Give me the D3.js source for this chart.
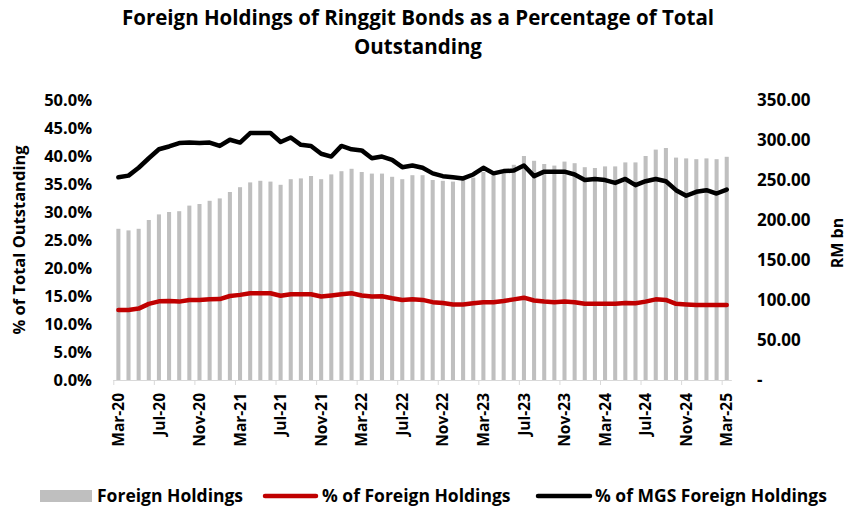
<!DOCTYPE html>
<html>
<head>
<meta charset="utf-8">
<script src="https://cdn.jsdelivr.net/npm/d3@7"></script>
<style>
  body { margin: 0; background: #fff; }
  text { font-family: "Open Sans", Lato, sans-serif; font-weight: bold; fill: #000; }
</style>
</head>
<body>
<svg id="chart" width="851" height="511"></svg>
<script>
// months run Mar-20 .. Mar-25
const firstMonth = new Date(2020, 2, 1);
const lastMonth = new Date(2025, 2, 1);
const months = d3.timeMonths(firstMonth, d3.timeMonth.offset(lastMonth, 1));

// Foreign Holdings, RM bn (right axis)
const holdings = [189, 187, 189, 200, 207, 210, 211, 218, 220, 224, 227, 235, 241,
  247, 249, 248, 244, 251, 252, 255, 251, 257, 261, 264, 260, 258, 258, 254, 251,
  256, 256, 250, 249, 248, 250, 253, 260, 256, 262, 269, 280, 274, 270, 268, 273,
  271, 266, 265, 267, 267, 272, 272, 280, 288, 290, 278, 277, 276, 277, 276, 279];

// % of Foreign Holdings (left axis)
const pctTotal = [12.5, 12.5, 12.75, 13.6, 14.05, 14.1, 14.0, 14.3, 14.3, 14.4, 14.45,
  15.0, 15.2, 15.5, 15.5, 15.5, 15.05, 15.3, 15.3, 15.3, 14.9, 15.1, 15.3, 15.5, 15.1,
  14.9, 14.95, 14.6, 14.3, 14.4, 14.3, 13.9, 13.75, 13.5, 13.5, 13.7, 13.9, 13.9, 14.1,
  14.4, 14.7, 14.2, 14.0, 13.9, 14.0, 13.9, 13.6, 13.6, 13.6, 13.6, 13.75, 13.7, 14.0,
  14.4, 14.3, 13.6, 13.5, 13.4, 13.4, 13.4, 13.4];

// % of MGS Foreign Holdings (left axis)
const pctMGS = [36.2, 36.5, 37.9, 39.6, 41.2, 41.7, 42.3, 42.4, 42.3, 42.4, 41.8, 42.9,
  42.4, 44.1, 44.1, 44.1, 42.5, 43.3, 42.0, 41.8, 40.4, 39.9, 41.8, 41.2, 41.0, 39.6,
  39.9, 39.3, 38.0, 38.3, 37.9, 36.9, 36.4, 36.2, 36.0, 36.7, 37.9, 36.9, 37.3, 37.4,
  38.3, 36.4, 37.2, 37.2, 37.2, 36.7, 35.7, 35.9, 35.7, 35.2, 35.9, 34.8, 35.5, 35.9,
  35.5, 33.9, 32.9, 33.6, 33.9, 33.3, 34.0];

const leftTicks = [0, 5, 10, 15, 20, 25, 30, 35, 40, 45, 50];
const rightTicks = [0, 50, 100, 150, 200, 250, 300, 350];
const titleLines = ["Foreign Holdings of Ringgit Bonds as a Percentage of Total", "Outstanding"];

const svg = d3.select("#chart");
const plotL = 113.3, plotR = 731.8, plotT = 100, plotB = 380;
const fmtMonth = d3.timeFormat("%b-%y");

const idx = d3.range(months.length);
const x = d3.scaleBand().domain(idx).range([plotL, plotR]).paddingInner(0.6).paddingOuter(0.3);
const xEdge = d3.scaleLinear().domain([0, months.length]).range([plotL, plotR]);
const yL = d3.scaleLinear().domain([0, 50]).range([plotB, plotT]);
const yR = d3.scaleLinear().domain([0, 350]).range([plotB, plotT]);
const cx = i => x(i) + x.bandwidth() / 2;

// title
svg.append("g").selectAll("text").data(titleLines).enter().append("text")
  .attr("x", 418).attr("y", (d, i) => 25 + i * 29)
  .attr("text-anchor", "middle").style("font-size", "20.5px")
  .text(d => d);

// bars
svg.append("g").selectAll("rect").data(holdings).enter().append("rect")
  .attr("x", (d, i) => x(i))
  .attr("width", x.bandwidth())
  .attr("y", d => yR(d))
  .attr("height", d => yR(0) - yR(d))
  .attr("fill", "#bfbfbf");

// x axis: ticks on category edges, labels on centres
const xTicks = svg.append("g").attr("transform", "translate(0," + plotB + ")")
  .call(d3.axisBottom(xEdge).tickValues(d3.range(0, months.length, 4)).tickSize(5).tickFormat(""));
xTicks.select(".domain").attr("stroke", "#d9d9d9").attr("d", "M" + plotL + ",0.5H" + plotR);
xTicks.selectAll(".tick line").attr("stroke", "#d9d9d9");

const xLab = svg.append("g").attr("transform", "translate(0," + plotB + ")")
  .call(d3.axisBottom(x).tickValues(idx.filter(i => i % 4 === 0)).tickSize(0)
    .tickFormat(i => fmtMonth(months[i])));
xLab.select(".domain").remove();
xLab.selectAll("text")
  .attr("transform", "rotate(-90)")
  .attr("x", -13).attr("y", 0).attr("dy", "0.36em")
  .attr("text-anchor", "end")
  .style("font-size", "15.5px").style("font-family", "'Open Sans', sans-serif");

// left axis
const axL = svg.append("g").attr("transform", "translate(92,0)")
  .call(d3.axisLeft(yL).tickValues(leftTicks).tickSize(0).tickPadding(0).tickFormat(d => d.toFixed(1) + "%"));
axL.select(".domain").remove();
axL.selectAll("text").style("font-size", "16.5px").style("font-family", "'Open Sans', sans-serif");

// right axis
const axR = svg.append("g").attr("transform", "translate(757,0)")
  .call(d3.axisRight(yR).tickValues(rightTicks).tickSize(0).tickPadding(0)
    .tickFormat(d => d === 0 ? "-" : d.toFixed(2)));
axR.select(".domain").remove();
axR.selectAll("text").style("font-size", "17px").style("font-family", "'Open Sans', sans-serif");

// axis titles
svg.append("text").attr("transform", "translate(25,240) rotate(-90)")
  .attr("text-anchor", "middle").style("font-size", "16.5px")
  .text("% of Total Outstanding");
svg.append("text").attr("transform", "translate(843,243) rotate(-90)")
  .attr("text-anchor", "middle").style("font-size", "16px")
  .text("RM bn");

// lines
const line = d3.line().x((d, i) => cx(i)).y(d => yL(d));
svg.append("path").datum(pctTotal).attr("d", line)
  .attr("fill", "none").attr("stroke", "#c00000").attr("stroke-width", 4.5)
  .attr("stroke-linejoin", "round").attr("stroke-linecap", "round");
svg.append("path").datum(pctMGS).attr("d", line)
  .attr("fill", "none").attr("stroke", "#000").attr("stroke-width", 4.5)
  .attr("stroke-linejoin", "round").attr("stroke-linecap", "round");

// legend
const legend = svg.append("g").style("font-size", "17.5px");
legend.append("rect").attr("x", 40).attr("y", 490).attr("width", 52).attr("height", 12).attr("fill", "#bfbfbf");
legend.append("text").attr("x", 97).attr("y", 502).text("Foreign Holdings");
legend.append("line").attr("x1", 265).attr("x2", 316).attr("y1", 496).attr("y2", 496)
  .attr("stroke", "#c00000").attr("stroke-width", 4.5).attr("stroke-linecap", "round");
legend.append("text").attr("x", 322).attr("y", 502).text("% of Foreign Holdings");
legend.append("line").attr("x1", 538).attr("x2", 590).attr("y1", 496).attr("y2", 496)
  .attr("stroke", "#000").attr("stroke-width", 4.5).attr("stroke-linecap", "round");
legend.append("text").attr("x", 595).attr("y", 502).text("% of MGS Foreign Holdings");
</script>
</body>
</html>
